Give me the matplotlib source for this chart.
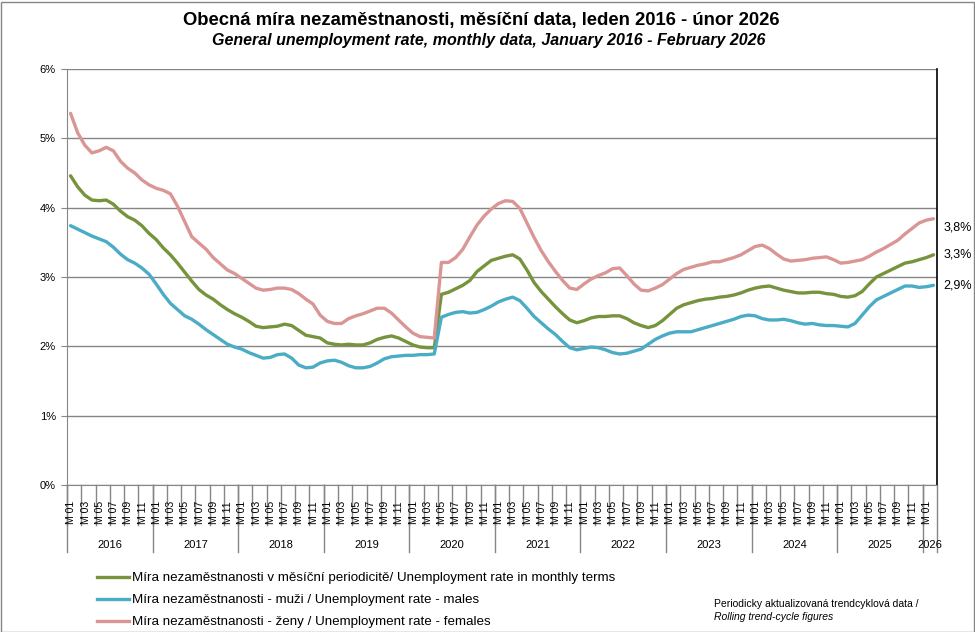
import matplotlib
matplotlib.use("Agg")
import matplotlib.pyplot as plt
from matplotlib import font_manager
from matplotlib.lines import Line2D
from matplotlib.transforms import blended_transform_factory

# ---------------- data ----------------
years = ["2016", "2017", "2018", "2019", "2020", "2021", "2022", "2023", "2024", "2025", "2026"]
month_labels = ["M 01", "M 02", "M 03", "M 04", "M 05", "M 06", "M 07", "M 08", "M 09", "M 10", "M 11", "M 12"]

total = [
    4.46, 4.30, 4.18, 4.11, 4.10, 4.11, 4.05, 3.95, 3.87, 3.82, 3.74, 3.63,   # 2016
    3.54, 3.42, 3.32, 3.20, 3.07, 2.94, 2.82, 2.74, 2.68, 2.60, 2.53, 2.47,   # 2017
    2.42, 2.36, 2.29, 2.27, 2.28, 2.29, 2.32, 2.30, 2.23, 2.16, 2.14, 2.12,   # 2018
    2.05, 2.03, 2.02, 2.03, 2.02, 2.02, 2.05, 2.10, 2.13, 2.15, 2.12, 2.07,   # 2019
    2.02, 1.99, 1.98, 1.98, 2.75, 2.78, 2.83, 2.88, 2.95, 3.08, 3.16, 3.24,   # 2020
    3.27, 3.30, 3.32, 3.26, 3.10, 2.92, 2.79, 2.68, 2.57, 2.47, 2.38, 2.34,   # 2021
    2.37, 2.41, 2.43, 2.43, 2.44, 2.44, 2.40, 2.34, 2.30, 2.27, 2.30, 2.37,   # 2022
    2.46, 2.55, 2.60, 2.63, 2.66, 2.68, 2.69, 2.71, 2.72, 2.74, 2.77, 2.81,   # 2023
    2.84, 2.86, 2.87, 2.84, 2.81, 2.79, 2.77, 2.77, 2.78, 2.78, 2.76, 2.75,   # 2024
    2.72, 2.71, 2.73, 2.79, 2.90, 3.00, 3.05, 3.10, 3.15, 3.20, 3.22, 3.25,   # 2025
    3.28, 3.32,                                                               # 2026
]
males = [
    3.74, 3.69, 3.64, 3.59, 3.55, 3.51, 3.43, 3.33, 3.25, 3.20, 3.13, 3.04,
    2.90, 2.75, 2.62, 2.53, 2.44, 2.39, 2.32, 2.24, 2.17, 2.10, 2.03, 1.99,
    1.96, 1.91, 1.87, 1.83, 1.84, 1.88, 1.89, 1.83, 1.73, 1.69, 1.70, 1.76,
    1.79, 1.80, 1.77, 1.72, 1.69, 1.69, 1.71, 1.76, 1.82, 1.85, 1.86, 1.87,
    1.87, 1.88, 1.88, 1.89, 2.42, 2.46, 2.49, 2.50, 2.48, 2.49, 2.53, 2.58,
    2.64, 2.68, 2.71, 2.66, 2.55, 2.43, 2.34, 2.25, 2.17, 2.07, 1.98, 1.95,
    1.97, 1.99, 1.98, 1.95, 1.91, 1.89, 1.90, 1.93, 1.96, 2.03, 2.10, 2.15,
    2.19, 2.21, 2.21, 2.21, 2.24, 2.27, 2.30, 2.33, 2.36, 2.39, 2.43, 2.45,
    2.44, 2.40, 2.38, 2.38, 2.39, 2.37, 2.34, 2.32, 2.33, 2.31, 2.30, 2.30,
    2.29, 2.28, 2.33, 2.45, 2.57, 2.67, 2.72, 2.77, 2.82, 2.87, 2.87, 2.85,
    2.86, 2.88,
]
females = [
    5.36, 5.08, 4.90, 4.79, 4.82, 4.87, 4.82, 4.67, 4.57, 4.50, 4.40, 4.33,
    4.28, 4.25, 4.20, 4.02, 3.80, 3.58, 3.49, 3.40, 3.28, 3.19, 3.10, 3.05,
    2.98, 2.91, 2.84, 2.81, 2.82, 2.84, 2.84, 2.82, 2.76, 2.68, 2.61, 2.45,
    2.36, 2.33, 2.33, 2.40, 2.44, 2.47, 2.51, 2.55, 2.55, 2.48, 2.38, 2.28,
    2.19, 2.14, 2.13, 2.12, 3.21, 3.21, 3.28, 3.40, 3.58, 3.75, 3.88, 3.98,
    4.06, 4.10, 4.09, 3.99, 3.78, 3.57, 3.38, 3.22, 3.08, 2.95, 2.84, 2.82,
    2.90, 2.97, 3.02, 3.06, 3.12, 3.13, 3.02, 2.90, 2.81, 2.80, 2.84, 2.89,
    2.97, 3.05, 3.11, 3.14, 3.17, 3.19, 3.22, 3.22, 3.25, 3.28, 3.32, 3.38,
    3.44, 3.46, 3.41, 3.33, 3.26, 3.23, 3.24, 3.25, 3.27, 3.28, 3.29, 3.25,
    3.20, 3.21, 3.23, 3.25, 3.30, 3.36, 3.41, 3.47, 3.53, 3.62, 3.70, 3.78,
    3.82, 3.84,
]
end_labels = ["3,3%", "2,9%", "3,8%"]
series_names = [
    "Míra nezaměstnanosti v měsíční periodicitě/ Unemployment rate in monthly terms",
    "Míra nezaměstnanosti - muži / Unemployment rate - males",
    "Míra nezaměstnanosti - ženy / Unemployment rate - females",
]
colors = ["#77933C", "#4BACC6", "#D99694"]
yticks = [0, 1, 2, 3, 4, 5, 6]

# ---------------- fonts ----------------
avail = {f.name for f in font_manager.fontManager.ttflist}
base = "Liberation Sans" if "Liberation Sans" in avail else "DejaVu Sans"
narrow = "Liberation Sans Narrow" if "Liberation Sans Narrow" in avail else base
plt.rcParams["font.family"] = [base, "DejaVu Sans"]

W, H = 975, 632
fig = plt.figure(figsize=(W / 100, H / 100), dpi=100)
L, R, T, B = 67, 937, 69, 485
ax = fig.add_axes([L / W, 1 - B / H, (R - L) / W, (B - T) / H])

n = len(total)
x = list(range(n))
series = [total, males, females]
for vals, c in zip(series, colors):
    ax.plot(x, vals, color=c, lw=2.4, solid_joinstyle="round", solid_capstyle="round", zorder=3)

ax.set_xlim(-0.5, n - 0.5)
ax.set_ylim(0, 6)
ax.set_yticks(yticks)
ax.set_yticklabels([f"{v}%" for v in yticks], fontsize=8)
ax.tick_params(axis="y", length=4, color="#868686", pad=4, direction="out")
ax.set_xticks([])
ax.grid(axis="y", color="#868686", lw=1)
ax.set_axisbelow(True)
ax.spines["top"].set_visible(False)
ax.spines["left"].set_color("#868686")
ax.spines["bottom"].set_color("#868686")
ax.spines["right"].set_color("black")
ax.spines["right"].set_linewidth(1.2)

# end value labels
for vals, lab, dy in zip(series, end_labels, [0, 0, -6]):
    ax.annotate(lab, (n - 1, vals[-1]), xytext=(7, dy), textcoords="offset points",
                ha="left", va="center", fontsize=9, annotation_clip=False)

# ---------------- category axis (months + years) ----------------
tr = blended_transform_factory(ax.transData, fig.transFigure)
def fy(py):
    return 1 - py / H

for i in range(0, n, 2):
    ax.plot([i - 0.5, i - 0.5], [fy(B), fy(525)], transform=tr, color="#868686", lw=1, clip_on=False)
    ax.text(i + 0.1, fy(501), month_labels[i % 12], transform=tr, rotation=90, ha="center", va="top",
            fontsize=7.6, clip_on=False)
for k, yr in enumerate(years):
    start = 12 * k - 0.5
    end = min(12 * (k + 1), n) - 0.5
    ax.plot([start, start], [fy(B), fy(552)], transform=tr, color="#868686", lw=1, clip_on=False)
    ax.text((start + end) / 2, fy(545), yr, transform=tr, ha="center", va="center", fontsize=8, clip_on=False)
ax.plot([n - 0.5, n - 0.5], [fy(B), fy(552)], transform=tr, color="#868686", lw=1, clip_on=False)

# ---------------- titles ----------------
fig.text(481 / W, fy(20), "Obecná míra nezaměstnanosti, měsíční data, leden 2016 - únor 2026",
         ha="center", va="center", fontsize=13.3, fontweight="bold", family=[narrow, base])
fig.text(489 / W, fy(40), "General unemployment rate, monthly data, January 2016 - February 2026",
         ha="center", va="center", fontsize=11.5, fontweight="bold", style="italic", family=[narrow, base])

# ---------------- legend ----------------
handles = [Line2D([0], [0], color=c, lw=2.4) for c in colors]
fig.legend(handles, series_names, loc="upper left", bbox_to_anchor=(97 / W, fy(572)),
           frameon=False, handlelength=2.4, handletextpad=0.25, labelspacing=0.72,
           borderaxespad=0, borderpad=0, prop={"family": [narrow, base], "size": 9.6})

fig.text(714 / W, fy(604), "Periodicky aktualizovaná trendcyklová data /", ha="left", va="center",
         fontsize=7.5, family=[narrow, base])
fig.text(714 / W, fy(617), "Rolling trend-cycle figures", ha="left", va="center",
         fontsize=7.5, style="italic", family=[narrow, base])

# outer border
fig.add_artist(plt.Rectangle((0.5 / W, 0.5 / H), 1 - 2 / W, 1 - 2 / H, transform=fig.transFigure,
                             fill=False, edgecolor="#868686", lw=1))

fig.savefig("out.png", dpi=100)
